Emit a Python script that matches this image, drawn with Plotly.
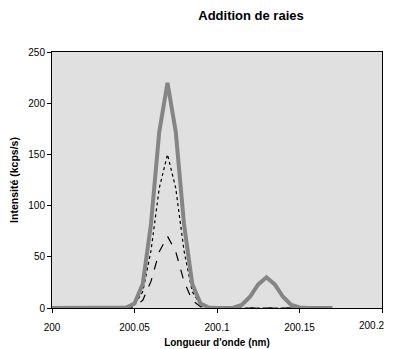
import plotly.graph_objects as go

wavelength = [200.0, 200.005, 200.01, 200.015, 200.02, 200.025, 200.03, 200.035, 200.04, 200.045,
              200.05, 200.055, 200.06, 200.065, 200.07, 200.075, 200.08, 200.085, 200.09, 200.095,
              200.1, 200.105, 200.11, 200.115, 200.12, 200.125, 200.13, 200.135, 200.14, 200.145,
              200.15, 200.155, 200.16, 200.165, 200.17]
raie1 = [0, 0, 0, 0, 0, 0, 0, 0, 0, 0.3,
         3, 16, 56, 117, 150, 117, 56, 16, 3, 0.3,
         0, 0, 0, 0, 0, 0, 0, 0, 0, 0,
         0, 0, 0, 0, 0]
raie2 = [0, 0, 0, 0, 0, 0, 0, 0, 0, 0.2,
         1.3, 7.5, 26, 55, 70, 55, 26, 7.5, 1.3, 0.2,
         0, 0, 0, 0, 0, 0, 0, 0, 0, 0,
         0, 0, 0, 0, 0]
somme = [0, 0, 0, 0, 0, 0, 0, 0, 0, 0.5,
         4.3, 23.5, 82, 172, 220, 172, 82, 23.5, 4.3, 0.5,
         0, 0, 0.3, 3, 11, 23, 30, 23, 11, 3,
         0.5, 0, 0, 0, 0]

x_ticks = [200, 200.05, 200.1, 200.15, 200.2]
x_tick_labels = ["200", "200.05", "200.1", "200.15", "200.2"]
y_ticks = [0, 50, 100, 150, 200, 250]

fig = go.Figure()
fig.add_trace(go.Scatter(x=wavelength, y=raie1, mode="lines",
                         line=dict(color="black", width=1.2, dash="dot"), name="raie 1"))
fig.add_trace(go.Scatter(x=wavelength, y=raie2, mode="lines",
                         line=dict(color="black", width=1.2, dash="dash"), name="raie 2"))
fig.add_trace(go.Scatter(x=wavelength, y=somme, mode="lines",
                         line=dict(color="#858585", width=4), name="somme"))

font_family = "Liberation Sans, Arial, sans-serif"
W, H = 387, 341
# last tick label is drawn as an annotation, nudged left so it stays inside the window
shown_labels = x_tick_labels[:-1] + [""]
fig.update_layout(
    width=W, height=H,
    margin=dict(l=44, r=13, t=44, b=41, autoexpand=False),
    paper_bgcolor="white",
    plot_bgcolor="#e0e0e0",
    showlegend=False,
    font=dict(family=font_family, size=10, color="black"),
    title=dict(text="<b>Addition de raies</b>", x=(251 - 8) / W, xref="container", xanchor="center",
               y=1 - 7 / H, yref="container", yanchor="middle",
               font=dict(family=font_family, size=13, color="black")),
    annotations=[dict(text=x_tick_labels[-1], x=x_ticks[-1], xref="x", y=0, yref="paper",
                      xanchor="center", yanchor="middle", xshift=-11, yshift=-17,
                      showarrow=False, font=dict(size=10, color="black"))],
)
fig.update_xaxes(range=[200, 200.2], tickvals=x_ticks, ticktext=shown_labels,
                 showgrid=False, zeroline=False, showline=True, linecolor="black", linewidth=1,
                 mirror=True, ticks="outside", ticklen=4, tickcolor="black",
                 tickfont=dict(size=10), ticklabelstandoff=6, automargin=False,
                 title=dict(text="<b>Longueur d'onde (nm)</b>", font=dict(size=10), standoff=6))
fig.update_yaxes(range=[0, 250], tickvals=y_ticks,
                 showgrid=False, zeroline=False, showline=True, linecolor="black", linewidth=1,
                 mirror=True, ticks="outside", ticklen=4, tickcolor="black",
                 tickfont=dict(size=10), automargin=False,
                 title=dict(text="<b>Intensité (kcps/s)</b>", font=dict(size=10.5), standoff=8))

fig.write_html("out.html")
